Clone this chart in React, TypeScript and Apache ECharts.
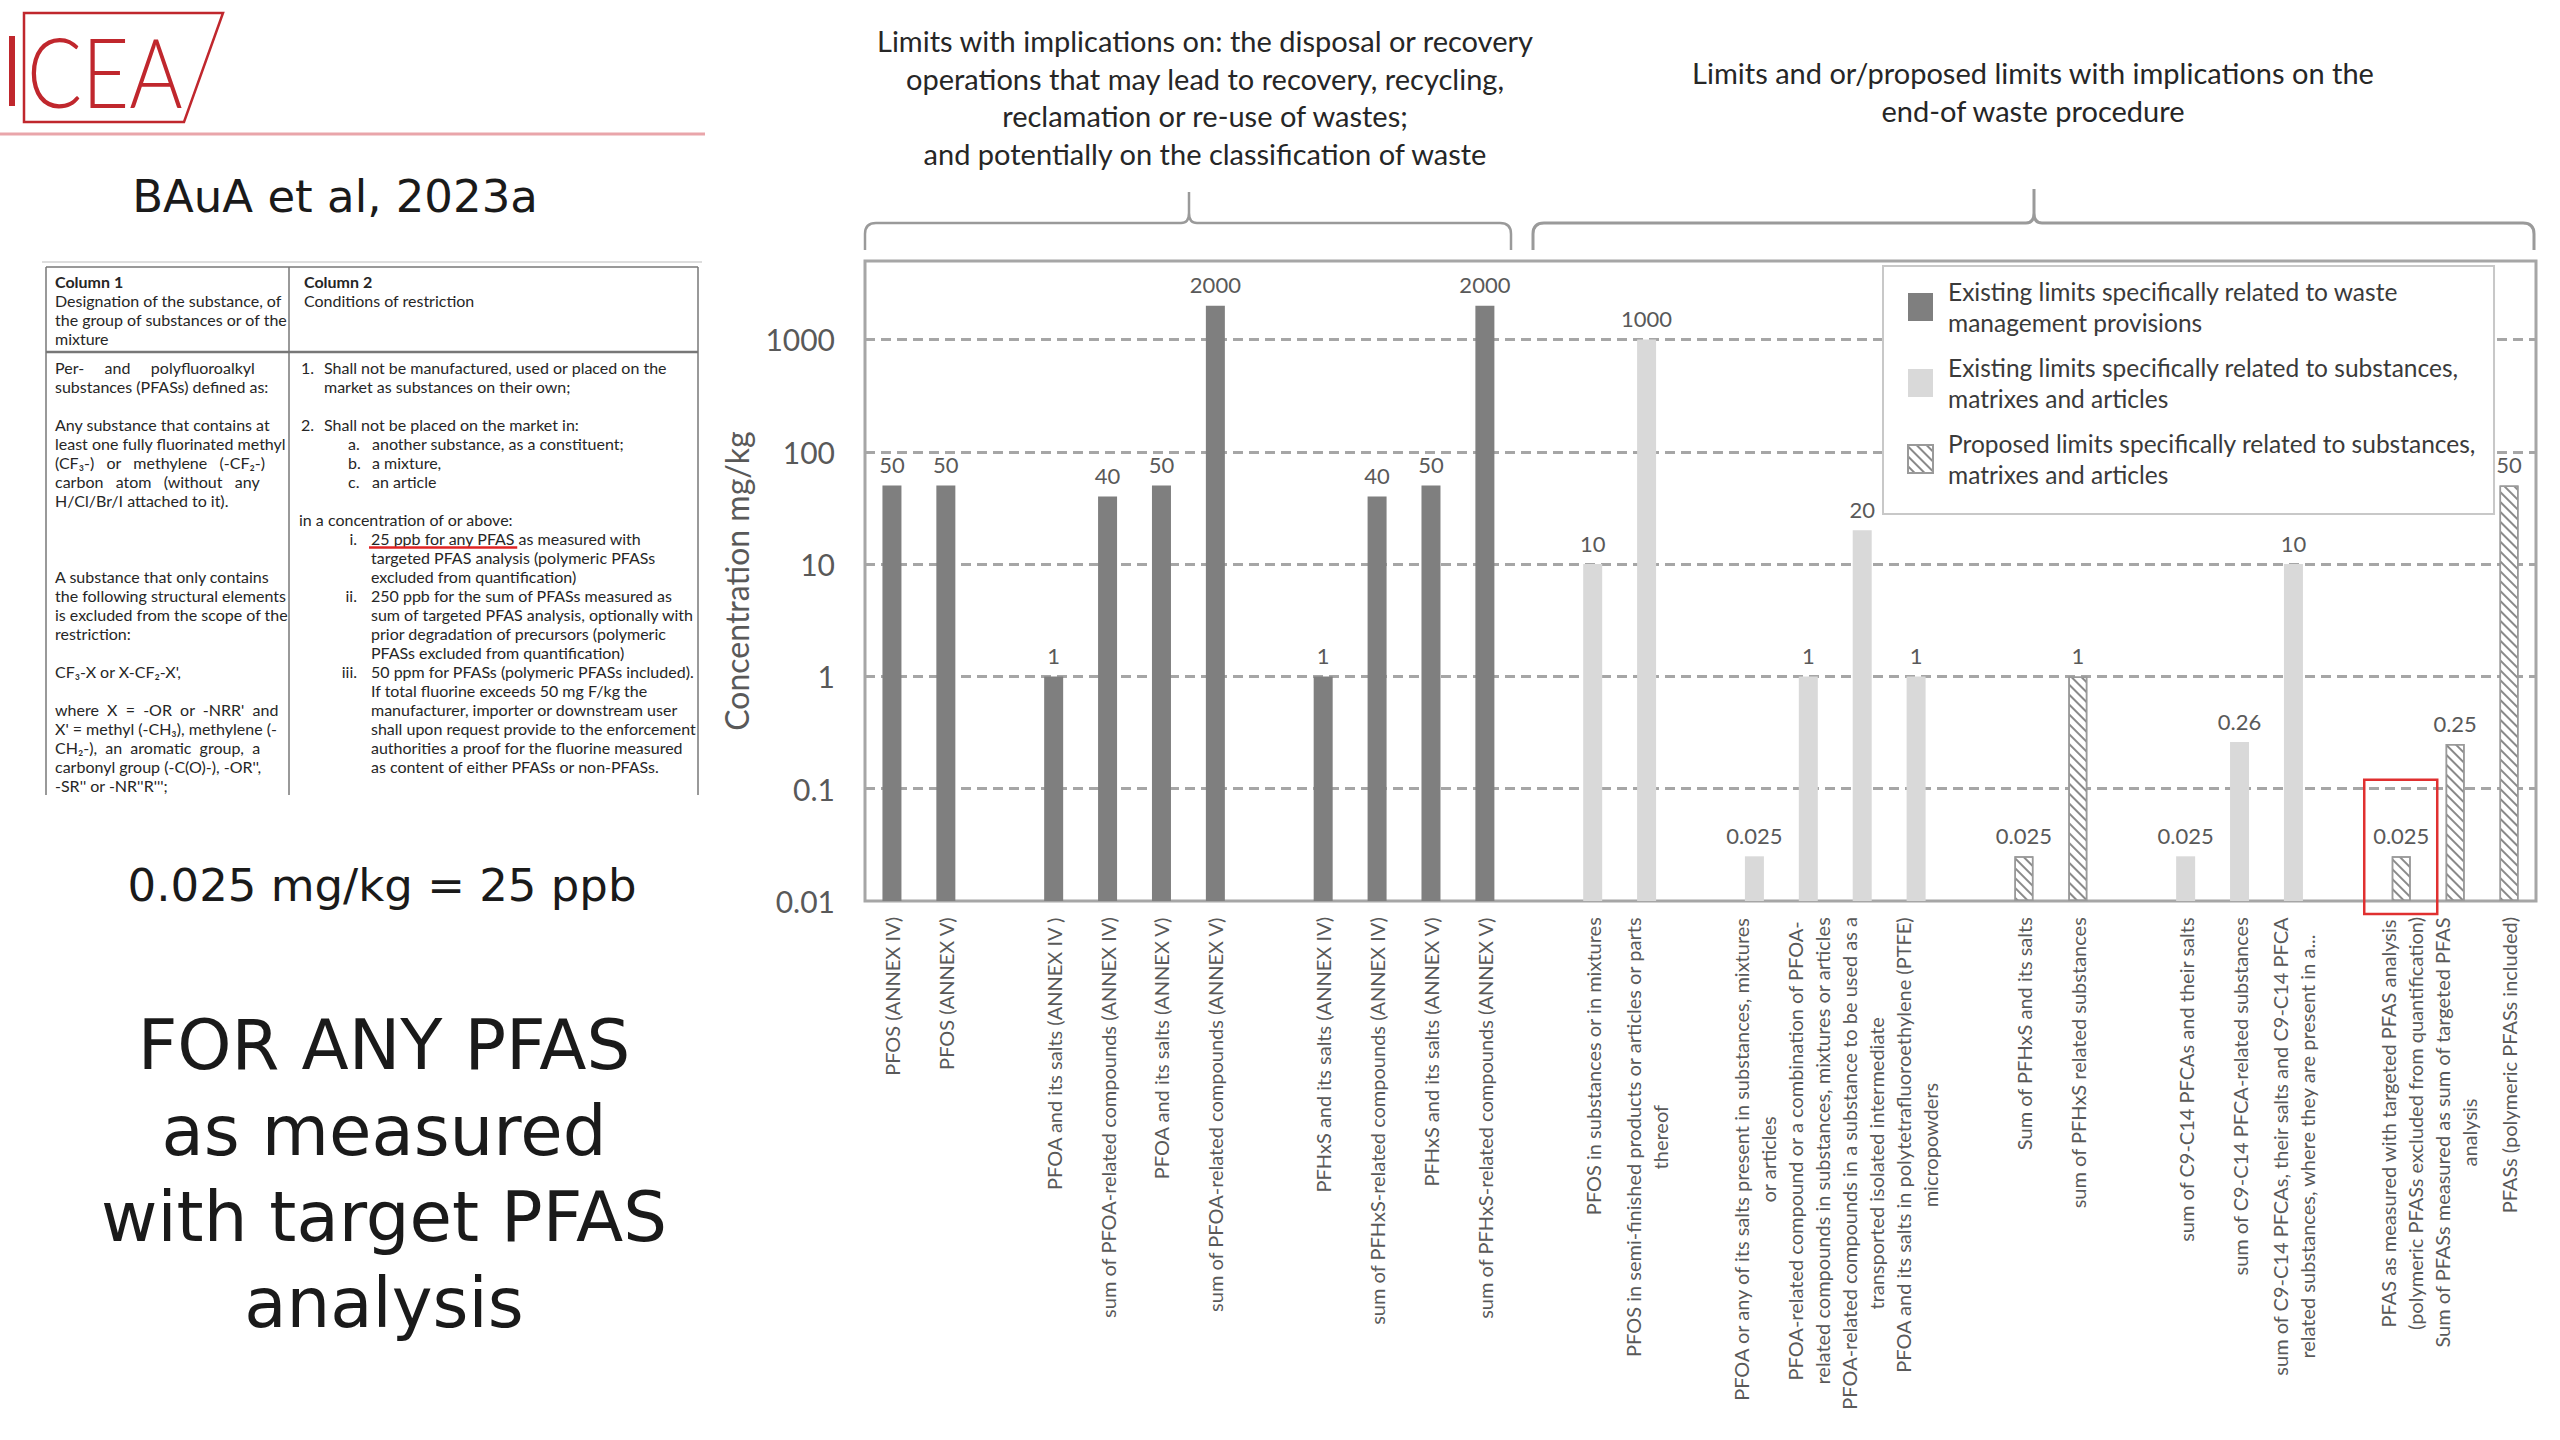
import React, { useEffect, useRef } from "react";
import * as echarts from "echarts";

// ---------------- DATA ----------------
const categories: string[] = [
  "PFOS (ANNEX IV)",
  "PFOS (ANNEX V)",
  "_gap1",
  "PFOA and its salts (ANNEX IV )",
  "sum of PFOA-related compounds (ANNEX IV)",
  "PFOA and its salts (ANNEX V)",
  "sum of PFOA-related compounds (ANNEX V)",
  "_gap2",
  "PFHxS and its salts (ANNEX IV)",
  "sum of PFHxS-related compounds (ANNEX IV)",
  "PFHxS and its salts (ANNEX V)",
  "sum of PFHxS-related compounds (ANNEX V)",
  "_gap3",
  "PFOS in substances or in mixtures",
  "PFOS in semi-finished products or articles or parts\nthereof",
  "_gap4",
  "PFOA or any of its salts present in substances, mixtures\nor articles",
  "PFOA-related compound or a combination of PFOA-\nrelated compounds in substances, mixtures or articles",
  "PFOA-related compounds in a substance to be used as a\ntransported isolated intermediate",
  "PFOA and its salts in polytetrafluoroethylene (PTFE)\nmicropowders",
  "_gap5",
  "Sum of PFHxS and its salts",
  "sum of PFHxS related substances",
  "_gap6",
  "sum of C9-C14 PFCAs and their salts",
  "sum of C9-C14 PFCA-related substances",
  "sum of C9-C14 PFCAs, their salts and C9-C14 PFCA\nrelated substances, where they are present in a...",
  "_gap7",
  "PFAS as measured with targeted PFAS analysis\n(polymeric PFASs excluded from quantification)",
  "Sum of PFASs measured as sum of targeted PFAS\nanalysis",
  "PFASs (polymeric PFASs included)",
];

// Existing limits specifically related to waste management provisions
const wasteLimits: (number | null)[] = [
  50, 50, null, 1, 40, 50, 2000, null, 1, 40, 50, 2000,
  null, null, null, null, null, null, null, null, null, null,
  null, null, null, null, null, null, null, null, null,
];
// Existing limits specifically related to substances, matrixes and articles
const substanceLimits: (number | null)[] = [
  null, null, null, null, null, null, null, null, null, null, null, null, null,
  10, 1000, null, 0.025, 1, 20, 1, null, null, null, null,
  0.025, 0.26, 10, null, null, null, null,
];
// Proposed limits specifically related to substances, matrixes and articles
const proposedLimits: (number | null)[] = [
  null, null, null, null, null, null, null, null, null, null, null,
  null, null, null, null, null, null, null, null, null, null,
  0.025, 1, null, null, null, null, null, 0.025, 0.25, 50,
];

const seriesNames = [
  "Existing limits specifically related to waste management provisions",
  "Existing limits specifically related to substances, matrixes and articles",
  "Proposed limits specifically related to substances, matrixes and articles",
];
const legendLabels = [
  "Existing limits specifically related to waste\nmanagement provisions",
  "Existing limits specifically related to substances,\nmatrixes and articles",
  "Proposed limits specifically related to substances,\nmatrixes and articles",
];
const yTickLabels = [0.01, 0.1, 1, 10, 100, 1000];
const highlightIndex = 28;

const title1 =
  "Limits with implications on: the disposal or recovery\noperations that may lead to recovery, recycling,\nreclamation or re-use of wastes;\nand potentially on the classification of waste";
const title2 =
  "Limits and or/proposed limits with implications on the\nend-of waste procedure";

// Table text (left panel)
const col1Header = ["Designation of the substance, of", "the group of substances or of the", "mixture"];
const col1Body: [number, string][] = [
  [0, "Per-     and     polyfluoroalkyl"],
  [1, "substances (PFASs) defined as:"],
  [3, "Any substance that contains at"],
  [4, "least one fully fluorinated methyl"],
  [5, "(CF\u2083-)   or   methylene   (-CF\u2082-)"],
  [6, "carbon   atom   (without   any"],
  [7, "H/Cl/Br/I attached to it)."],
  [11, "A substance that only contains"],
  [12, "the following structural elements"],
  [13, "is excluded from the scope of the"],
  [14, "restriction:"],
  [16, "CF\u2083-X or X-CF\u2082-X',"],
  [18, "where  X  =  -OR  or  -NRR'  and"],
  [19, "X' = methyl (-CH\u2083), methylene (-"],
  [20, "CH\u2082-),  an  aromatic  group,  a"],
  [21, "carbonyl group (-C(O)-), -OR'',"],
  [22, "-SR'' or -NR''R''';"],
];
// [line, marker, text, indentLevel]
const col2Body: [number, string, string, number][] = [
  [0, "1.", "Shall not be manufactured, used or placed on the", 0],
  [1, "", "market as substances on their own;", 0],
  [3, "2.", "Shall not be placed on the market in:", 0],
  [4, "a.", "another substance, as a constituent;", 1],
  [5, "b.", "a mixture,", 1],
  [6, "c.", "an article", 1],
  [8, "", "in a concentration of or above:", -1],
  [9, "i.", "25 ppb for any PFAS as measured with", 2],
  [10, "", "targeted PFAS analysis (polymeric PFASs", 2],
  [11, "", "excluded from quantification)", 2],
  [12, "ii.", "250 ppb for the sum of PFASs measured as", 2],
  [13, "", "sum of targeted PFAS analysis, optionally with", 2],
  [14, "", "prior degradation of precursors (polymeric", 2],
  [15, "", "PFASs excluded from quantification)", 2],
  [16, "iii.", "50 ppm for PFASs (polymeric PFASs included).", 2],
  [17, "", "If total fluorine exceeds 50 mg F/kg the", 2],
  [18, "", "manufacturer, importer or downstream user", 2],
  [19, "", "shall upon request provide to the enforcement", 2],
  [20, "", "authorities a proof for the fluorine measured", 2],
  [21, "", "as content of either PFASs or non-PFASs.", 2],
];
const leftNote = "0.025 mg/kg = 25 ppb";
const leftBig = "FOR ANY PFAS\nas measured\nwith target PFAS\nanalysis";

// ---------------- SHAPES ----------------
const brace1 =
  "M865 250 L865 234 Q865 223 876 223 L1181 223 Q1189 223 1189 213 L1189 192 M1189 213 Q1189 223 1197 223 L1500 223 Q1511 223 1511 234 L1511 250";
const brace2 =
  "M1533 250 L1533 234 Q1533 223 1544 223 L2026 223 Q2034 223 2034 213 L2034 189 M2034 213 Q2034 223 2042 223 L2523 223 Q2534 223 2534 234 L2534 250";
echarts.graphic.registerShape("brace1", echarts.graphic.extendPath(brace1, {}));
echarts.graphic.registerShape("brace2", echarts.graphic.extendPath(brace2, {}));

const RED = "#c0272d";
const FONT = "Lato";
const TFS = 16; // table font size

function txt(text: string, x: number, y: number, s: any = {}) {
  return {
    type: "text",
    x,
    y,
    silent: true,
    style: {
      text,
      fontFamily: FONT,
      fontSize: TFS,
      fill: "#262626",
      align: "left",
      textAlign: "left",
      verticalAlign: "middle",
      textVerticalAlign: "middle",
      ...s,
    },
  };
}
function ln(x1: number, y1: number, x2: number, y2: number, stroke: string, lineWidth: number) {
  return { type: "line", silent: true, shape: { x1, y1, x2, y2 }, style: { stroke, lineWidth } };
}

function buildStaticGraphics(): any[] {
  const els: any[] = [];
  // Logo
  els.push({ type: "rect", silent: true, shape: { x: 9, y: 36, width: 6, height: 70 }, style: { fill: RED } });
  els.push({
    type: "polygon",
    silent: true,
    shape: { points: [[24, 13], [223, 13], [184, 122], [24, 122]] },
    style: { fill: "none", stroke: RED, lineWidth: 2.5 },
  });
  els.push({
    type: "text",
    x: 27,
    y: 71,
    scaleX: 0.84,
    silent: true,
    style: {
      text: "CEA",
      fontFamily: FONT,
      fontSize: 97,
      fontWeight: 300,
      fill: RED,
      align: "left",
      textAlign: "left",
      verticalAlign: "middle",
      textVerticalAlign: "middle",
    },
  });
  els.push(ln(0, 134, 705, 134, "#e9a5aa", 3));
  els.push(
    txt("BAuA et al, 2023a", 335, 196, {
      fontFamily: "DejaVu Sans",
      fontSize: 45,
      fill: "#1a1a1a",
      align: "center",
      textAlign: "center",
    })
  );

  // Table
  const tl = 46, tr = 698, tdv = 289, tt = 267, th = 352, tb = 795;
  els.push(ln(tl - 4, tt - 5, tr + 4, tt - 5, "#dddddd", 2));
  els.push(ln(tl, tt, tr, tt, "#777777", 1.5));
  els.push(ln(tl, th, tr, th, "#777777", 2.5));
  els.push(ln(tl, tt, tl, tb, "#777777", 1.5));
  els.push(ln(tdv, tt, tdv, tb, "#777777", 1.5));
  els.push(ln(tr, tt, tr, tb, "#777777", 1.5));
  els.push(txt("Column 1", 55, 281, { fontWeight: "bold" }));
  els.push(txt("Column 2", 304, 281, { fontWeight: "bold" }));
  col1Header.forEach((s, i) => els.push(txt(s, 55, 300 + 19 * i)));
  els.push(txt("Conditions of restriction", 304, 300));
  const y0 = 367.6, lh = 19;
  col1Body.forEach(([k, s]) => els.push(txt(s, 55, y0 + lh * k)));
  col2Body.forEach(([k, m, s, lvl]) => {
    const y = y0 + lh * k;
    if (lvl === -1) {
      els.push(txt(s, 299, y));
    } else if (lvl === 0) {
      if (m) els.push(txt(m, 301, y));
      els.push(txt(s, 324, y));
    } else if (lvl === 1) {
      if (m) els.push(txt(m, 348, y));
      els.push(txt(s, 372, y));
    } else {
      if (m) els.push(txt(m, 357, y, { align: "right", textAlign: "right" }));
      els.push(txt(s, 371, y));
    }
  });
  // red underline under "25 ppb for any PFAS"
  let uw = 150;
  try {
    const ctx = document.createElement("canvas").getContext("2d");
    if (ctx) {
      ctx.font = TFS + "px " + FONT;
      uw = ctx.measureText("25 ppb for any PFAS").width;
    }
  } catch (e) {}
  els.push(ln(369, y0 + lh * 9 + 9, 369 + uw + 4, y0 + lh * 9 + 9, "#e02424", 2.5));

  els.push(
    txt(leftNote, 382, 885, {
      fontFamily: "DejaVu Sans",
      fontSize: 45,
      fill: "#1a1a1a",
      align: "center",
      textAlign: "center",
    })
  );
  els.push(
    txt(leftBig, 384, 1002, {
      fontFamily: "DejaVu Sans",
      fontSize: 69,
      lineHeight: 86,
      fill: "#1a1a1a",
      align: "center",
      textAlign: "center",
      verticalAlign: "top",
      textVerticalAlign: "top",
    })
  );

  // Titles above the chart
  els.push(
    txt(title1, 1205, 22, {
      fontSize: 29,
      lineHeight: 37.5,
      fill: "#262626",
      align: "center",
      textAlign: "center",
      verticalAlign: "top",
      textVerticalAlign: "top",
    })
  );
  els.push(
    txt(title2, 2033, 54, {
      fontSize: 29,
      lineHeight: 37.5,
      fill: "#262626",
      align: "center",
      textAlign: "center",
      verticalAlign: "top",
      textVerticalAlign: "top",
    })
  );
  els.push({ type: "brace1", x: 0, y: 0, silent: true, style: { fill: "none", stroke: "#9a9a9a", lineWidth: 2.5 } });
  els.push({ type: "brace2", x: 0, y: 0, silent: true, style: { fill: "none", stroke: "#9a9a9a", lineWidth: 3 } });
  return els;
}

function yFormatter(v: number): string {
  for (const t of yTickLabels) {
    if (Math.abs(v - t) / t < 1e-6) return String(t);
  }
  return "";
}

function buildOption(): any {
  const barLabel = {
    show: true,
    position: "top",
    distance: 10,
    color: "#595959",
    fontSize: 22,
    fontFamily: FONT,
  };
  return {
    animation: false,
    backgroundColor: "#ffffff",
    grid: {
      left: 865,
      right: 24,
      top: 261,
      bottom: 539,
      show: true,
      borderColor: "#a6a6a6",
      borderWidth: 3,
      backgroundColor: "transparent",
      containLabel: false,
      outerBoundsMode: "none",
    },
    legend: {
      orient: "vertical",
      left: 1883,
      top: 266,
      padding: [10, 18, 24, 24],
      itemGap: 14,
      itemWidth: 25,
      itemHeight: 28,
      icon: "rect",
      backgroundColor: "#ffffff",
      borderColor: "#c8c8c8",
      borderWidth: 2,
      selectedMode: false,
      textStyle: { fontFamily: FONT, fontSize: 24.5, lineHeight: 31, color: "#3a3a3a", padding: [0, 0, 0, 10] },
      formatter: (name: string) => legendLabels[seriesNames.indexOf(name)] || name,
      data: seriesNames,
    },
    xAxis: {
      type: "category",
      data: categories,
      axisLine: { show: false },
      axisTick: { show: false },
      splitLine: { show: false },
      axisLabel: {
        interval: 0,
        rotate: 90,
        margin: 16,
        color: "#595959",
        fontFamily: FONT,
        fontSize: 20,
        formatter: (v: string) =>
          v.startsWith("_gap") ? "" : v.split("\n").map((l) => "{c|" + l + "}").join("\n"),
        rich: {
          c: { align: "center", fontFamily: FONT, fontSize: 20, lineHeight: 27, color: "#595959" },
        },
      },
    },
    yAxis: {
      type: "log",
      logBase: 10,
      min: 0.01,
      max: 5000,
      startValue: 0.01,
      name: "Concentration mg/kg",
      nameLocation: "middle",
      nameRotate: 90,
      nameGap: 113,
      nameTextStyle: { fontFamily: FONT, fontSize: 32, color: "#595959" },
      axisLine: { show: false },
      axisTick: { show: false },
      axisLabel: {
        formatter: yFormatter,
        fontFamily: FONT,
        fontSize: 30,
        color: "#595959",
        margin: 30,
      },
      splitLine: {
        show: true,
        showMaxLine: false,
        showMinLine: false,
        lineStyle: { type: [10, 6], color: "#a6a6a6", width: 3 },
      },
    },
    series: [
      {
        name: seriesNames[0],
        type: "bar",
        barWidth: 19,
        barGap: "-100%",
        data: wasteLimits,
        itemStyle: { color: "#7f7f7f" },
        label: barLabel,
      },
      {
        name: seriesNames[1],
        type: "bar",
        barWidth: 19,
        barGap: "-100%",
        data: substanceLimits,
        itemStyle: { color: "#d9d9d9" },
        label: barLabel,
      },
      {
        name: seriesNames[2],
        type: "bar",
        barWidth: 19,
        barGap: "-100%",
        data: proposedLimits,
        itemStyle: {
          color: "#ffffff",
          borderColor: "#9a9a9a",
          borderWidth: 1.5,
          decal: {
            symbol: "rect",
            symbolSize: 1,
            color: "#8a8a8a",
            dashArrayX: [1, 0],
            dashArrayY: [2, 5],
            rotation: Math.PI / 4,
          },
        },
        label: barLabel,
      },
    ],
  };
}

export default function App() {
  const ref = useRef<HTMLDivElement>(null);
  useEffect(() => {
    const el = ref.current;
    if (!el) return;
    const chart = echarts.init(el, null, { renderer: "svg" });
    chart.setOption(buildOption());
    const cx = chart.convertToPixel({ xAxisIndex: 0 }, highlightIndex) as number;
    const yTop = chart.convertToPixel({ yAxisIndex: 0 }, 0.1) as number;
    const yBot = chart.convertToPixel({ yAxisIndex: 0 }, 0.01) as number;
    const els = buildStaticGraphics();
    els.push({
      type: "rect",
      silent: true,
      z: 10,
      shape: { x: cx - 37, y: yTop - 9, width: 73, height: yBot - yTop + 22 },
      style: { fill: "none", stroke: "#e03030", lineWidth: 2.5 },
    });
    chart.setOption({ graphic: { elements: els } });
    return () => chart.dispose();
  }, []);
  return (
    <div
      ref={ref}
      style={{ position: "absolute", left: 0, top: 0, width: 2560, height: 1440, background: "#ffffff" }}
    />
  );
}
